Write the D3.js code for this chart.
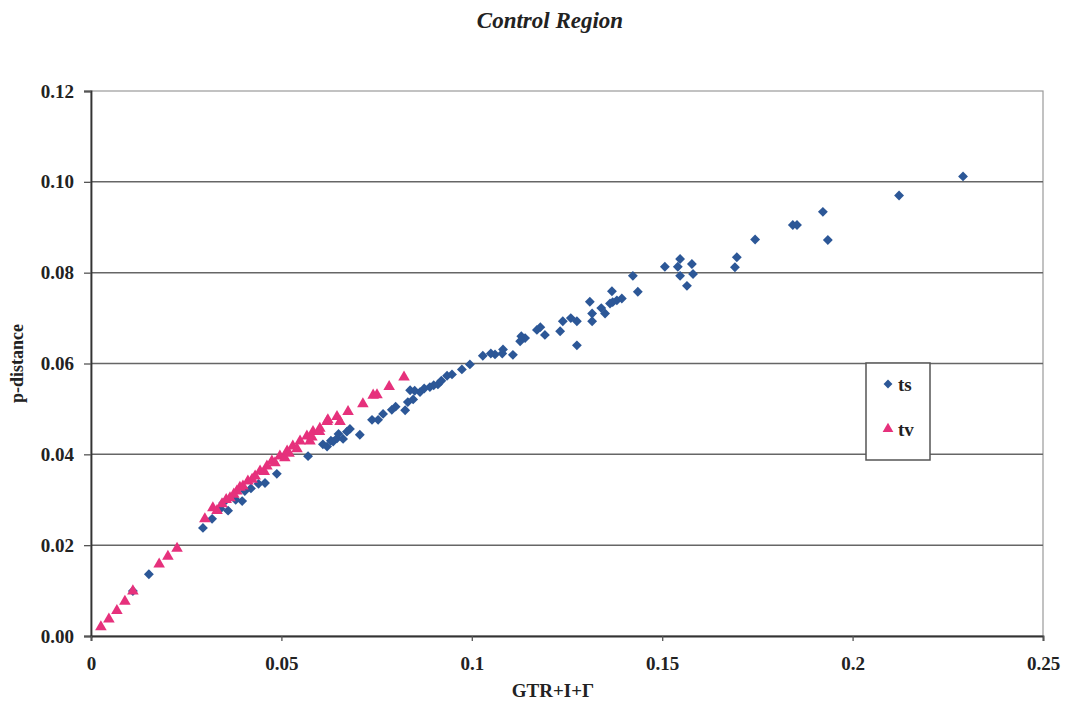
<!DOCTYPE html>
<html>
<head>
<meta charset="utf-8">
<script src="https://cdn.jsdelivr.net/npm/d3@7"></script>
<style>
  body { margin: 0; background: #fff; }
  svg { display: block; }
</style>
</head>
<body>
<div id="d1"></div>
<script>
// ts: transitions (GTR+I+G distance, p-distance)
const tsX = [0.0110, 0.0152, 0.0294, 0.0318, 0.0347, 0.0360, 0.0397, 0.0404, 0.0457, 0.0488,
  0.0570, 0.0609, 0.0620, 0.0636, 0.0646, 0.0662, 0.0672, 0.0680, 0.0706, 0.0738,
  0.0754, 0.0767, 0.0790, 0.0825, 0.0832, 0.0838, 0.0864, 0.0846, 0.0890, 0.0911,
  0.0935, 0.0948, 0.0974, 0.0995, 0.1029, 0.1061, 0.1082, 0.1108, 0.1127, 0.1140,
  0.1171, 0.1192, 0.1232, 0.1239, 0.1276, 0.1276, 0.1310, 0.1316, 0.1316, 0.1350,
  0.1368, 0.1363, 0.1381, 0.1394, 0.1436, 0.1423, 0.1507, 0.1547, 0.1541, 0.1578,
  0.1581, 0.1547, 0.1565, 0.1691, 0.1696, 0.1744, 0.1843, 0.1854, 0.1922, 0.1935,
  0.2122, 0.2290,
  0.0340, 0.0380, 0.0420, 0.0440, 0.0630, 0.0650, 0.0800, 0.0850, 0.0875, 0.0900,
  0.0920, 0.1050, 0.1080, 0.1130, 0.1180, 0.1260, 0.1340, 0.1370];
const tsY = [0.0099, 0.0136, 0.0238, 0.0258, 0.0293, 0.0276, 0.0297, 0.0319, 0.0337, 0.0357,
  0.0396, 0.0422, 0.0417, 0.0428, 0.0435, 0.0434, 0.0450, 0.0456, 0.0443, 0.0476,
  0.0476, 0.0489, 0.0498, 0.0497, 0.0515, 0.0541, 0.0537, 0.0521, 0.0548, 0.0554,
  0.0573, 0.0576, 0.0587, 0.0598, 0.0617, 0.0620, 0.0631, 0.0619, 0.0649, 0.0656,
  0.0674, 0.0663, 0.0671, 0.0693, 0.0693, 0.0640, 0.0736, 0.0710, 0.0693, 0.0710,
  0.0759, 0.0732, 0.0739, 0.0743, 0.0758, 0.0793, 0.0813, 0.0830, 0.0813, 0.0819,
  0.0797, 0.0793, 0.0771, 0.0812, 0.0834, 0.0873, 0.0905, 0.0905, 0.0934, 0.0872,
  0.0970, 0.1012,
  0.0280, 0.0300, 0.0325, 0.0335, 0.0430, 0.0445, 0.0505, 0.0540, 0.0545, 0.0552,
  0.0562, 0.0622, 0.0622, 0.0660, 0.0680, 0.0700, 0.0722, 0.0735];

// tv: transversions
const tvX = [0.0026, 0.0047, 0.0068, 0.0089, 0.0110, 0.0179, 0.0202, 0.0226, 0.0299, 0.0331,
  0.0344, 0.0355, 0.0365, 0.0383, 0.0391, 0.0399, 0.0412, 0.0423, 0.0431, 0.0444,
  0.0462, 0.0475, 0.0483, 0.0496, 0.0509, 0.0515, 0.0530, 0.0541, 0.0549, 0.0567,
  0.0575, 0.0583, 0.0601, 0.0620, 0.0622, 0.0646, 0.0654, 0.0675, 0.0714, 0.0741,
  0.0751, 0.0783, 0.0822,
  0.0320, 0.0375, 0.0455, 0.0520, 0.0580, 0.0600];
const tvY = [0.0020, 0.0037, 0.0056, 0.0076, 0.0099, 0.0158, 0.0175, 0.0193, 0.0258, 0.0276,
  0.0291, 0.0300, 0.0304, 0.0319, 0.0327, 0.0330, 0.0341, 0.0345, 0.0352, 0.0363,
  0.0374, 0.0385, 0.0381, 0.0396, 0.0392, 0.0407, 0.0418, 0.0412, 0.0429, 0.0440,
  0.0429, 0.0450, 0.0457, 0.0472, 0.0476, 0.0483, 0.0472, 0.0494, 0.0511, 0.0530,
  0.0531, 0.0549, 0.0570,
  0.0282, 0.0312, 0.0362, 0.0402, 0.0438, 0.0450];

const xTicks = [0, 0.05, 0.1, 0.15, 0.2, 0.25];
const xTickLabels = ["0", "0.05", "0.1", "0.15", "0.2", "0.25"];
const yTicks = [0, 0.02, 0.04, 0.06, 0.08, 0.10, 0.12];
const yTickLabels = ["0.00", "0.02", "0.04", "0.06", "0.08", "0.10", "0.12"];
const seriesNames = ["ts", "tv"];

const width = 1065, height = 705;
const margin = ({ top: 91, right: 22, bottom: 69, left: 91 });
const blue = "#2c5797", pink = "#e6317c";
const font = "'Liberation Serif', 'Times New Roman', serif";

const x = d3.scaleLinear().domain([0, 0.25]).range([margin.left, width - margin.right]);
const y = d3.scaleLinear().domain([0, 0.12]).range([height - margin.bottom, margin.top]);

const svg = d3.select("#d1").append("svg")
  .attr("width", width).attr("height", height)
  .attr("viewBox", [0, 0, width, height])
  .style("font-family", font);

// frame + grid
svg.append("rect")
  .attr("x", x(0)).attr("y", y(0.12))
  .attr("width", x(0.25) - x(0)).attr("height", y(0) - y(0.12))
  .attr("fill", "none").attr("stroke", "#9a9a9a").attr("stroke-width", 1.2);

svg.append("g")
  .selectAll("line")
  .data(yTicks.filter(d => d > 0 && d < 0.12))
  .join("line")
  .attr("x1", x(0)).attr("x2", x(0.25))
  .attr("y1", d => y(d)).attr("y2", d => y(d))
  .attr("stroke", "#666").attr("stroke-width", 1.5);

const yAxis = g => g
  .attr("transform", `translate(${margin.left},0)`)
  .call(d3.axisLeft(y).tickValues(yTicks).tickSize(7).tickPadding(10)
    .tickFormat((d, i) => yTickLabels[i]))
  .call(g => g.select(".domain").attr("stroke", "#333").attr("stroke-width", 1.8))
  .call(g => g.selectAll(".tick line").attr("stroke", "#555").attr("stroke-width", 1.3))
  .call(g => g.selectAll(".tick text")
    .attr("font-family", font).attr("font-size", 19).attr("font-weight", "bold")
    .attr("fill", "#222"));

const xAxis = g => g
  .attr("transform", `translate(0,${height - margin.bottom})`)
  .call(d3.axisBottom(x).tickValues(xTicks).tickSize(5).tickPadding(16)
    .tickFormat((d, i) => xTickLabels[i]))
  .call(g => g.select(".domain").attr("stroke", "#333").attr("stroke-width", 1.8))
  .call(g => g.selectAll(".tick line").attr("stroke", "#555").attr("stroke-width", 1.3))
  .call(g => g.selectAll(".tick text")
    .attr("font-family", font).attr("font-size", 19).attr("font-weight", "bold")
    .attr("fill", "#222"));

svg.append("g").call(yAxis);
svg.append("g").call(xAxis);

// titles
svg.append("text")
  .attr("x", 550).attr("y", 28)
  .attr("text-anchor", "middle")
  .attr("font-size", 23).attr("font-weight", "bold").attr("font-style", "italic")
  .attr("fill", "#222")
  .text("Control Region");

svg.append("text")
  .attr("transform", `translate(23,${(y(0) + y(0.12)) / 2}) rotate(-90)`)
  .attr("text-anchor", "middle")
  .attr("font-size", 18).attr("font-weight", "bold").attr("fill", "#222")
  .text("p-distance");

svg.append("text")
  .attr("x", 553).attr("y", 697)
  .attr("text-anchor", "middle")
  .attr("font-size", 19).attr("font-weight", "bold").attr("fill", "#222")
  .text("GTR+I+Γ");

// points
const diamond = d3.symbol().type(d3.symbolDiamond2).size(62);
const triangle = d3.symbol().type(d3.symbolTriangle).size(58);

svg.append("g")
  .selectAll("path")
  .data(d3.range(tsX.length))
  .join("path")
  .attr("transform", i => `translate(${x(tsX[i])},${y(tsY[i])})`)
  .attr("d", diamond)
  .attr("fill", blue);

svg.append("g")
  .selectAll("path")
  .data(d3.range(tvX.length))
  .join("path")
  .attr("transform", i => `translate(${x(tvX[i])},${y(tvY[i])})`)
  .attr("d", triangle)
  .attr("fill", pink);

// legend
const legend = svg.append("g").attr("transform", "translate(866,363)");
legend.append("rect")
  .attr("width", 64).attr("height", 97)
  .attr("fill", "#fff").attr("stroke", "#555").attr("stroke-width", 1.5);

const item = legend.selectAll("g")
  .data(seriesNames)
  .join("g")
  .attr("transform", (d, i) => `translate(22,${21 + i * 45})`);

item.append("path")
  .attr("d", (d, i) => i === 0 ? d3.symbol().type(d3.symbolDiamond2).size(50)() : d3.symbol().type(d3.symbolTriangle).size(50)())
  .attr("fill", (d, i) => i === 0 ? blue : pink);

item.append("text")
  .attr("x", 10).attr("dy", "0.35em")
  .attr("font-size", 19).attr("font-weight", "bold").attr("fill", "#222")
  .text(d => d);
</script>
</body>
</html>
